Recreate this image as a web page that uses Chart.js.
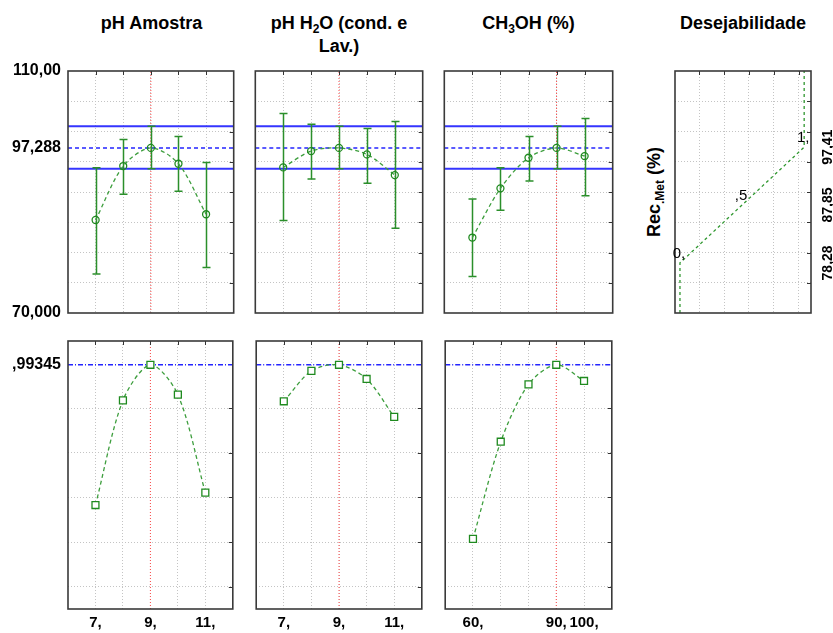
<!DOCTYPE html>
<html><head><meta charset="utf-8">
<script src="https://cdn.jsdelivr.net/npm/chart.js@4.4.0/dist/chart.umd.min.js"></script>
<style>
html,body{margin:0;padding:0;background:#fff;}
#wrap{position:relative;width:833px;height:633px;overflow:hidden;font-family:"Liberation Sans",Arial,sans-serif;background:#fff;}
canvas{position:absolute;}
.title{position:absolute;top:12px;text-align:center;font-weight:bold;font-size:18px;line-height:23px;color:#000;white-space:nowrap;}
.title sub{font-size:12px;vertical-align:-4px;line-height:0;}
#ylab{position:absolute;left:654px;top:192px;transform:translate(-50%,-50%) rotate(-90deg);font-weight:bold;font-size:18px;white-space:nowrap;color:#000;}
#ylab sub{font-size:12px;vertical-align:-4px;line-height:0;}
</style></head>
<body>
<div id="wrap">
  <div class="title" style="left:68px;width:167px;">pH Amostra</div>
  <div class="title" style="left:254px;width:170px;">pH H<sub>2</sub>O (cond. e<br>Lav.)</div>
  <div class="title" style="left:443px;width:171px;">CH<sub>3</sub>OH (%)</div>
  <div class="title" style="left:675px;width:136px;">Desejabilidade</div>
  <div id="ylab">Rec<sub>.Met</sub> (%)</div>
</div>
<script>
// ---------- data ----------
const xPH = [7, 8, 9, 10, 11];
const xMeOH = [60, 70, 80, 90, 100];
const xRangePH = [6, 12];
const xRangeMeOH = [50, 110];
const xLabelsPH = ['7,', '', '9,', '', '11,'];
const xLabelsMeOH = ['60,', '', '', '90,', '100,'];
const currentPHA = 9;
const currentPHW = 9;
const currentMeOH = 90;

const recRange = [70, 110];
const recGrid = [75, 80, 85, 90, 95, 100, 105];
const recTickVals = [70, 97.288, 110];
const recTickLabels = ['70,000', '97,288', '110,00'];
const predicted = 97.288;
const ciLow = 93.85;
const ciHigh = 100.88;

const recPHA    = [85.38, 94.29, 97.288, 94.67, 86.32];
const recPHA_lo = [76.43, 89.62, 93.85, 90.11, 77.53];
const recPHA_hi = [94.01, 98.68, 100.88, 99.18, 94.89];

const recPHW    = [94.07, 96.76, 97.288, 96.21, 92.80];
const recPHW_lo = [85.27, 92.14, 93.85, 91.43, 84.01];
const recPHW_hi = [102.97, 101.21, 100.88, 100.49, 101.65];

const recMeOH    = [82.47, 90.60, 95.66, 97.288, 95.93];
const recMeOH_lo = [76.04, 86.98, 91.81, 93.85, 89.40];
const recMeOH_hi = [88.85, 94.01, 99.18, 100.88, 102.14];

const desRange = [-0.1, 1.1];
const desGrid = [0, 0.2, 0.4, 0.6, 0.8];
const desOpt = 0.99345;
const desTickVals = [0.99345];
const desTickLabels = [',99345'];
const desPHA  = [0.3655, 0.834, 0.99345, 0.86, 0.421];
const desPHW  = [0.83, 0.966, 0.99345, 0.93, 0.76];
const desMeOH = [0.214, 0.649, 0.906, 0.99345, 0.921];

// desirability function panel
const dfRange = [-0.04, 1.055];
const dfGrid = [0.155, 0.355, 0.555, 0.755, 0.955];
const dfCurveD = [0, 0, 0.5, 1, 1];
const dfCurveY = [70, 78.28, 87.85, 97.41, 110];
const dfMarkD = [0, 0.5, 1];
const dfMarkY = [78.28, 87.85, 97.41];
const dfMarkLabels = ['0,', ',5', '1,'];
const dfRightLabels = ['78,28', '87,85', '97,41'];

// ---------- layout ----------
const FONT = '"Liberation Sans", Arial, sans-serif';
const GREEN = '#1f8a1f', GREEN_L = '#3d9e3d', GRID = '#c4c4c4';
const ROW_TOP = {plotTop: 71, plotH: 242, T: 18, B: 18};
const ROW_BOT = {plotTop: 341, plotH: 268, T: 18, B: 24};
const COLS = [
  {left: 68, w: 167, L: 68, R: 4},
  {left: 254, w: 170, L: 4, R: 4},
  {left: 443, w: 171, L: 4, R: 4},
  {left: 675, w: 136, L: 4, R: 22}
];
const wrap = document.getElementById('wrap');

function makeChart(col, row, datasets, xScale, yScale, extra) {
  const cv = document.createElement('canvas');
  const w = col.L + col.w + col.R, h = row.T + row.plotH + row.B;
  cv.width = w; cv.height = h;
  cv.style.left = (col.left - col.L) + 'px';
  cv.style.top = (row.plotTop - row.T) + 'px';
  cv.style.width = w + 'px'; cv.style.height = h + 'px';
  wrap.appendChild(cv);
  xScale.afterFit = s => { s.height = row.B; };
  yScale.afterFit = s => { s.width = col.L; };
  const hideX = extra.hideX || [], hideY = extra.hideY || [];
  const framePlugin = {
    id: 'frame',
    afterDatasetDraw(chart, args) {
      if (args.index !== 1 || !extra.err) return;
      const {ctx} = chart, sx = chart.scales.x, sy = chart.scales.y;
      const e = extra.err;
      ctx.save();
      ctx.strokeStyle = '#2b8f2b'; ctx.lineWidth = 1.5; ctx.setLineDash([]);
      e.x.forEach((xv, i) => {
        const px = Math.round(sx.getPixelForValue(xv)) + 0.5;
        const p1 = sy.getPixelForValue(e.lo[i]), p2 = sy.getPixelForValue(e.hi[i]);
        ctx.beginPath();
        ctx.moveTo(px, p1); ctx.lineTo(px, p2);
        ctx.moveTo(px - 4, p1); ctx.lineTo(px + 4, p1);
        ctx.moveTo(px - 4, p2); ctx.lineTo(px + 4, p2);
        ctx.stroke();
      });
      ctx.restore();
    },
    afterDraw(chart) {
      const {ctx, chartArea: a} = chart, sx = chart.scales.x, sy = chart.scales.y;
      ctx.save();
      ctx.setLineDash([]);
      ctx.strokeStyle = '#333'; ctx.lineWidth = 1;
      sx.ticks.forEach(t => {
        if (hideX.includes(t.value)) return;
        const px = Math.round(sx.getPixelForValue(t.value)) + 0.5;
        ctx.beginPath(); ctx.moveTo(px, a.top); ctx.lineTo(px, a.top + 4); ctx.stroke();
      });
      sy.ticks.forEach(t => {
        if (hideY.includes(t.value)) return;
        const py = Math.round(sy.getPixelForValue(t.value)) + 0.5;
        ctx.beginPath(); ctx.moveTo(a.right, py); ctx.lineTo(a.right - 4, py); ctx.stroke();
      });
      ctx.strokeStyle = '#3a3a3a'; ctx.lineWidth = 1.6;
      ctx.strokeRect(a.left, a.top, a.right - a.left, a.bottom - a.top);
      if (extra.marks) {
        ctx.fillStyle = '#000';
        ctx.font = '15px ' + FONT;
        ctx.textAlign = 'center'; ctx.textBaseline = 'bottom';
        extra.marks.d.forEach((d, i) => {
          ctx.fillText(extra.marks.labels[i], sx.getPixelForValue(d) - 1, sy.getPixelForValue(extra.marks.y[i]) - 2);
        });
      }
      if (extra.right) {
        ctx.fillStyle = '#000';
        ctx.font = 'bold 14px ' + FONT;
        ctx.textAlign = 'center'; ctx.textBaseline = 'middle';
        extra.right.vals.forEach((v, i) => {
          ctx.save();
          ctx.translate(a.right + 17, sy.getPixelForValue(v));
          ctx.rotate(-Math.PI / 2);
          ctx.fillText(extra.right.labels[i], 0, 0);
          ctx.restore();
        });
      }
      ctx.restore();
    }
  };
  return new Chart(cv.getContext('2d'), {
    type: 'scatter',
    data: {datasets},
    options: {
      responsive: false, animation: false, devicePixelRatio: 1,
      layout: {padding: {left: 0, right: col.R, top: row.T, bottom: 0}},
      scales: {x: xScale, y: yScale},
      plugins: {legend: {display: false}, tooltip: {enabled: false}}
    },
    plugins: [framePlugin]
  });
}

function xAxis(range, grid, labels) {
  return {
    type: 'linear', min: range[0], max: range[1],
    afterBuildTicks: s => { s.ticks = grid.map(v => ({value: v})); },
    grid: {color: GRID, lineWidth: 1, drawTicks: false},
    border: {display: false, dash: [1, 2]},
    ticks: {
      display: !!labels, autoSkip: false, maxRotation: 0, minRotation: 0, padding: 5,
      color: '#000', font: {family: FONT, size: 15, weight: 'bold'},
      callback: (v, i) => labels ? labels[i] : ''
    }
  };
}
function yAxis(range, grid, tickVals, tickLabels, showLabels, hidden) {
  const all = grid.concat(tickVals).sort((a, b) => a - b);
  return {
    type: 'linear', min: range[0], max: range[1],
    afterBuildTicks: s => { s.ticks = all.map(v => ({value: v})); },
    grid: {color: c => (c.tick && hidden.includes(c.tick.value)) ? 'rgba(0,0,0,0)' : GRID, lineWidth: 1, drawTicks: false},
    border: {display: false, dash: [1, 2]},
    ticks: {
      display: showLabels, autoSkip: false, padding: 7,
      color: '#000', font: {family: FONT, size: 16, weight: 'bold'},
      callback: v => { const i = tickVals.indexOf(v); return i >= 0 ? tickLabels[i] : ''; }
    }
  };
}
function hline(xr, y, color, width, dash) {
  return {data: [{x: xr[0], y}, {x: xr[1], y}], showLine: true, borderColor: color, borderWidth: width, borderDash: dash, pointRadius: 0};
}
function vline(x, yr) {
  return {data: [{x, y: yr[0]}, {x, y: yr[1]}], showLine: true, borderColor: '#ff4a4a', borderWidth: 1, borderDash: [1, 2], pointRadius: 0};
}
function curve(xs, ys, style, radius, fill) {
  return {
    data: xs.map((x, i) => ({x, y: ys[i]})), showLine: true,
    borderColor: GREEN_L, borderWidth: 1.3, borderDash: [4, 3], tension: 0.3,
    pointStyle: style, pointRadius: radius, pointBorderColor: GREEN, pointBackgroundColor: fill, pointBorderWidth: 1.3
  };
}

const recHidden = [70, 110, 97.288];
const desHidden = [1, 0.99345];

function topPanel(col, xs, ys, lo, hi, cur, xr, showY) {
  const ds = [
    curve(xs, ys, 'circle', 3.5, 'rgba(255,255,255,0)'),
    vline(cur, recRange),
    hline(xr, predicted, '#2424ff', 1.5, [4, 3]),
    hline(xr, ciHigh, '#3535ff', 2, []),
    hline(xr, ciLow, '#3535ff', 2, [])
  ];
  makeChart(col, ROW_TOP, ds, xAxis(xr, xs, null),
    yAxis(recRange, recGrid, recTickVals, recTickLabels, showY, recHidden),
    {err: {x: xs, lo, hi}, hideX: [], hideY: recHidden});
}
function botPanel(col, xs, ds_, cur, xr, labels, showY) {
  const ds = [
    curve(xs, ds_, 'rect', 4.9, '#ffffff'),
    vline(cur, desRange),
    hline(xr, desOpt, '#2424ff', 1.5, [5, 2, 1, 2])
  ];
  makeChart(col, ROW_BOT, ds, xAxis(xr, xs, labels),
    yAxis(desRange, desGrid.concat([1]), desTickVals, desTickLabels, showY, desHidden),
    {hideX: [], hideY: desHidden});
}

topPanel(COLS[0], xPH, recPHA, recPHA_lo, recPHA_hi, currentPHA, xRangePH, true);
topPanel(COLS[1], xPH, recPHW, recPHW_lo, recPHW_hi, currentPHW, xRangePH, false);
topPanel(COLS[2], xMeOH, recMeOH, recMeOH_lo, recMeOH_hi, currentMeOH, xRangeMeOH, false);

botPanel(COLS[0], xPH, desPHA, currentPHA, xRangePH, xLabelsPH, true);
botPanel(COLS[1], xPH, desPHW, currentPHW, xRangePH, xLabelsPH, false);
botPanel(COLS[2], xMeOH, desMeOH, currentMeOH, xRangeMeOH, xLabelsMeOH, false);

// desirability function panel
makeChart(COLS[3], ROW_TOP,
  [{data: dfCurveD.map((d, i) => ({x: d, y: dfCurveY[i]})), showLine: true, borderColor: '#2f972f', borderWidth: 1.3, borderDash: [3, 3], pointRadius: 0, tension: 0}],
  xAxis(dfRange, dfGrid, null),
  yAxis(recRange, recGrid, [], [], false, recHidden),
  {hideX: [], hideY: recHidden, marks: {d: dfMarkD, y: dfMarkY, labels: dfMarkLabels}, right: {vals: dfMarkY, labels: dfRightLabels}});
</script>
</body></html>
